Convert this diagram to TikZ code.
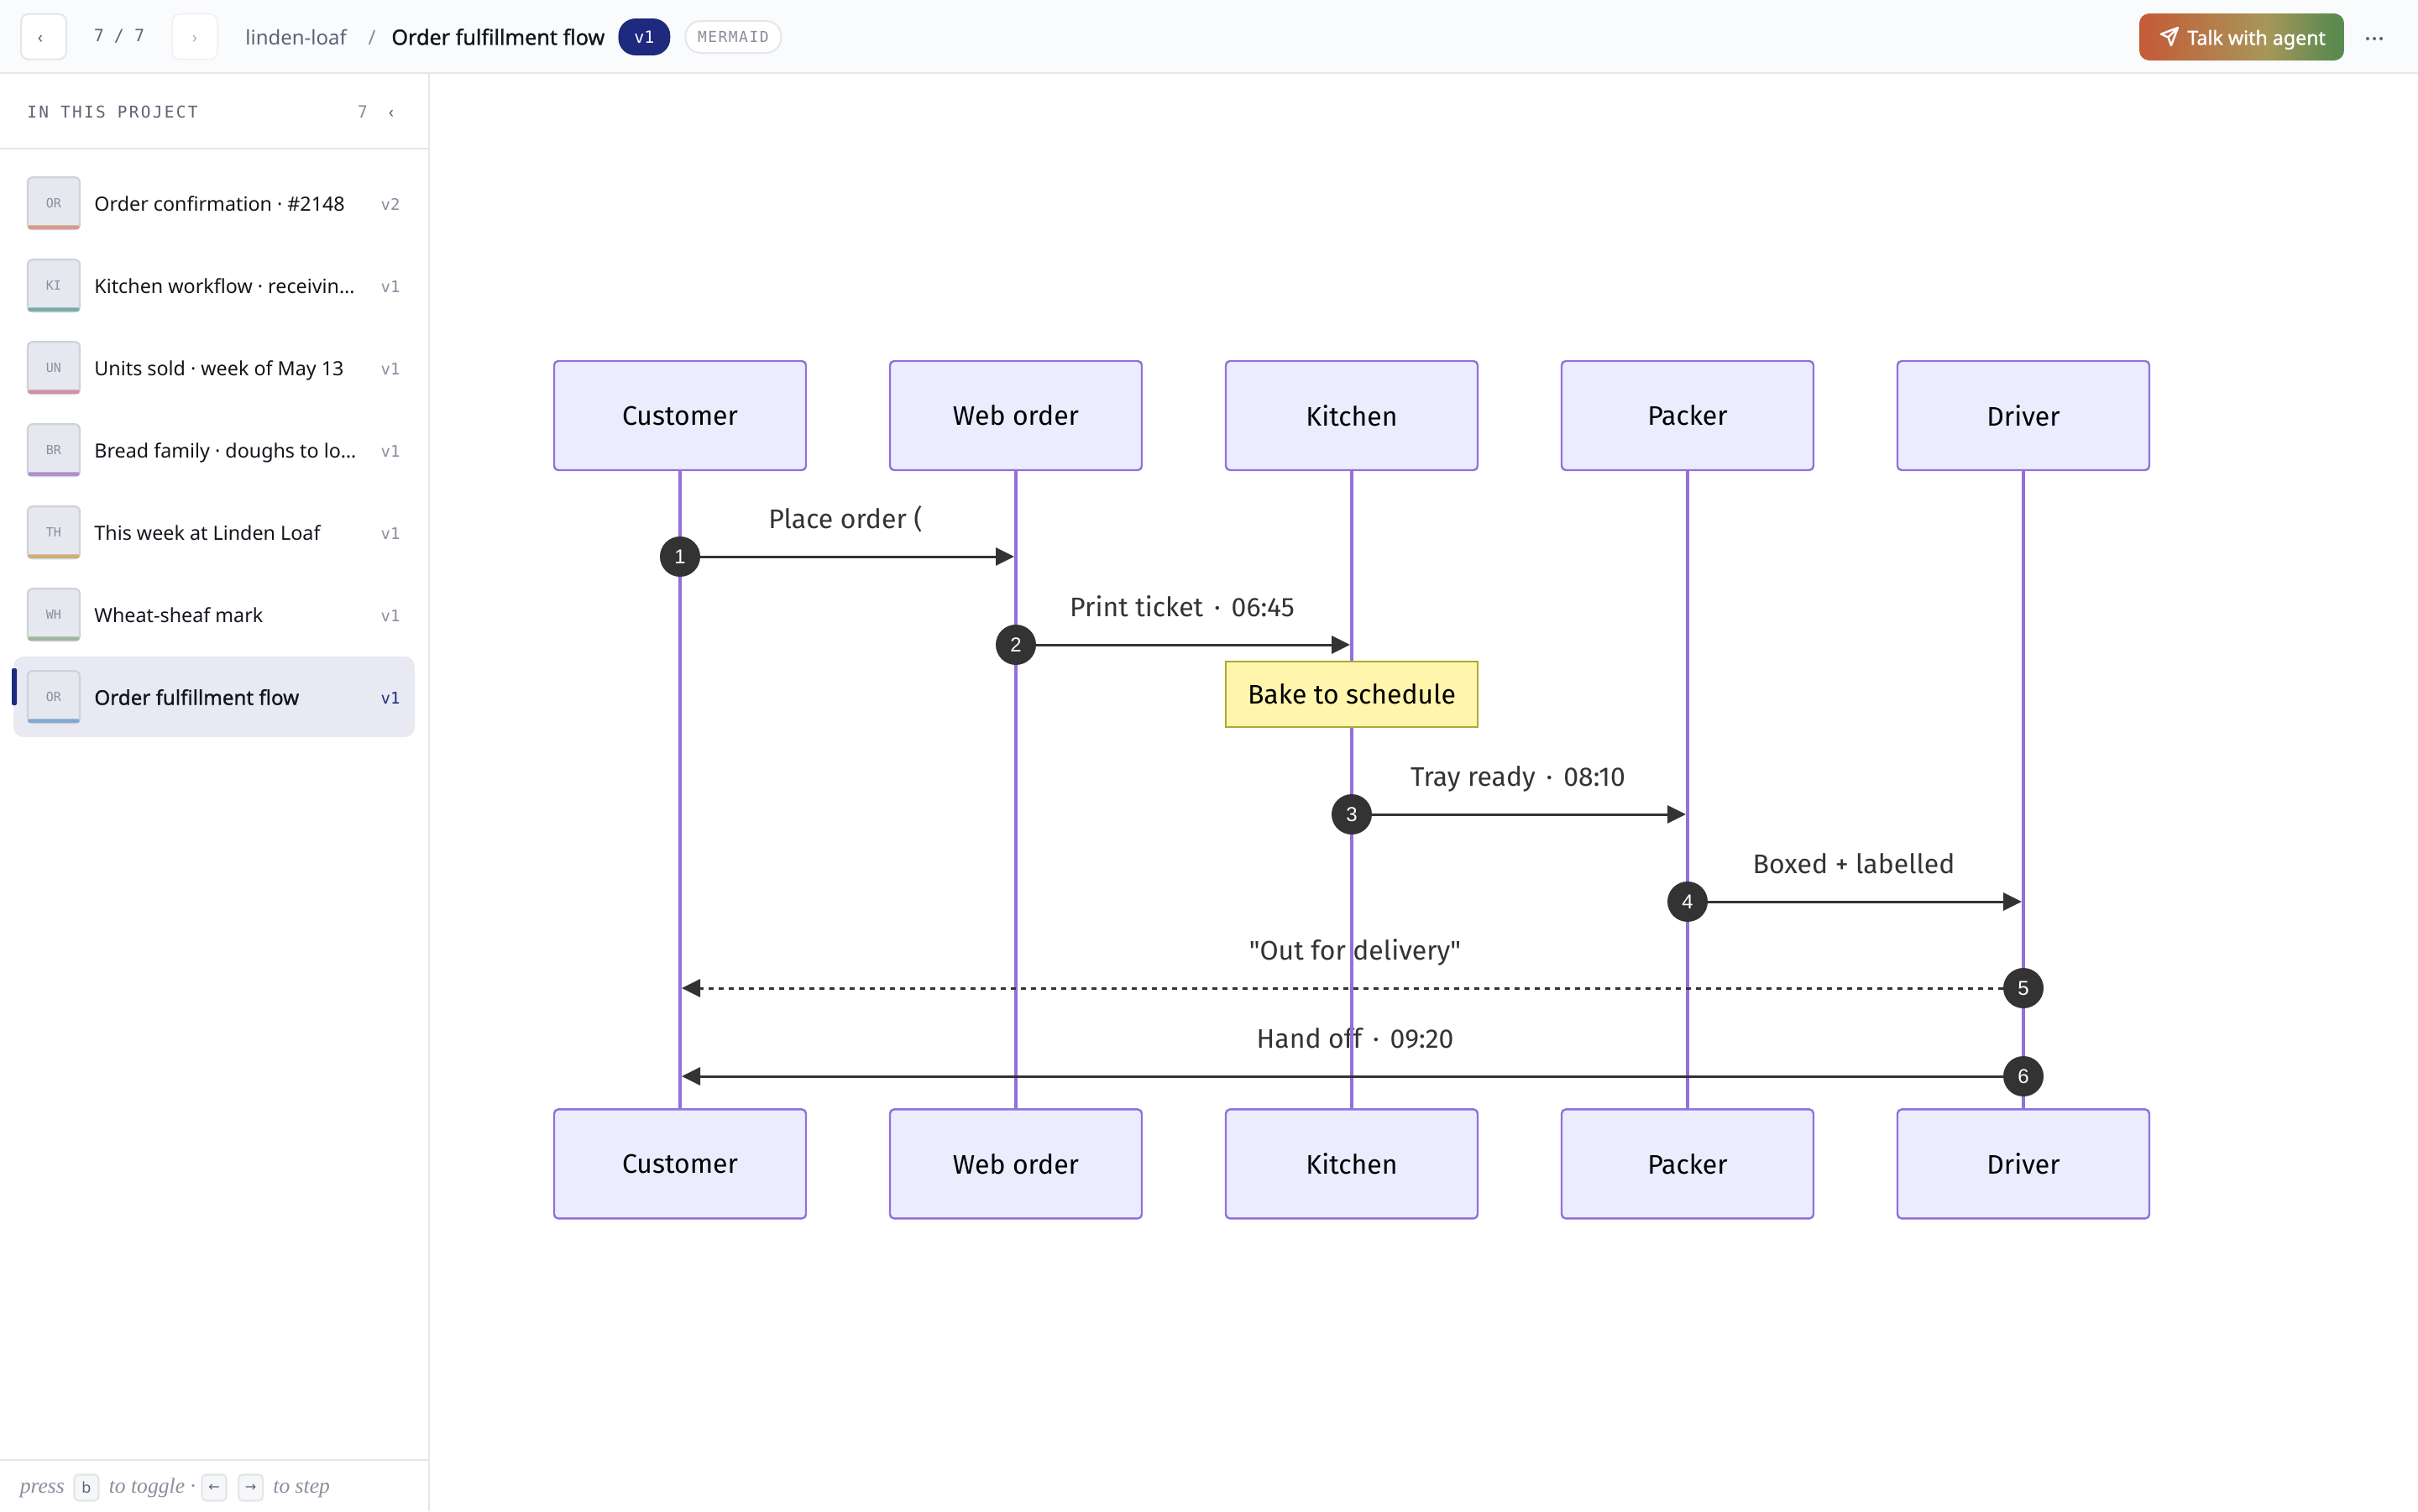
\documentclass[tikz,border=0pt]{standalone}
\usepackage{fontspec}
\usetikzlibrary{arrows.meta,calc}
\setmainfont{Noto Sans}
\setmonofont{DejaVu Sans Mono}
\newfontfamily\seqfont{Fira Sans}
\newfontfamily\footfont{Liberation Serif}
\newfontfamily\numfont{Liberation Sans}
\newfontfamily\arrowfont{DejaVu Sans}
\newfontfamily\spacedmono[LetterSpace=12]{DejaVu Sans Mono}
\newfontfamily\widemono[LetterSpace=8]{DejaVu Sans Mono}
\newfontfamily\semifont[FakeBold=1.1]{Noto Sans}
\newcommand{\seqdot}{\space\hspace{2.2pt}·\hspace{2.2pt}\space}

\definecolor{pagebg}{HTML}{FFFFFF}
\definecolor{barbg}{HTML}{FAFBFD}
\definecolor{rulecol}{HTML}{E5E6EA}
\definecolor{navy}{HTML}{1E2A7E}
\definecolor{inkcol}{HTML}{14151C}
\definecolor{greycol}{HTML}{5F6275}
\definecolor{softcol}{HTML}{8A8D9C}
\definecolor{thumbbg}{HTML}{E6E8F0}
\definecolor{thumbline}{HTML}{CFD2DC}
\definecolor{selbg}{HTML}{E8E9F2}
\definecolor{lifecol}{HTML}{9370DB}
\definecolor{actorbg}{HTML}{ECECFF}
\definecolor{notebg}{HTML}{FFF5AD}
\definecolor{noteline}{HTML}{AAAA33}
\definecolor{msgcol}{HTML}{333333}
\definecolor{keybg}{HTML}{F6F7FB}
\definecolor{stripa}{HTML}{D89A86}
\definecolor{stripb}{HTML}{7AACAC}
\definecolor{stripc}{HTML}{D48FA5}
\definecolor{stripd}{HTML}{B08FCF}
\definecolor{stripe}{HTML}{CFAE78}
\definecolor{stripf}{HTML}{9DB89A}
\definecolor{stripg}{HTML}{86A6D3}
\definecolor{btnl}{HTML}{C25F3A}
\definecolor{btnm}{HTML}{A89658}
\definecolor{btnr}{HTML}{5A8A50}
\pgfdeclarehorizontalshading{btnshade}{100bp}{color(0bp)=(btnl);color(27.5bp)=(btnl);color(56bp)=(btnm);color(72.5bp)=(btnr);color(100bp)=(btnr)}

\tikzset{
  actor/.style={draw=lifecol,fill=actorbg,line width=1.2pt,rounded corners=2.5pt,minimum width=150pt,minimum height=65pt,inner sep=0pt,font=\seqfont\fontsize{16}{18}\selectfont,text=black},
  lifeline/.style={draw=lifecol,line width=1.9pt},
  msg/.style={draw=msgcol,line width=1.5pt,-{Triangle[length=11pt,width=10.5pt,fill=msgcol]}},
  msglabel/.style={anchor=base,inner sep=0pt,text=msgcol,font=\seqfont\fontsize{16}{18}\selectfont},
  numdot/.style={circle,fill=msgcol,minimum size=24pt,inner sep=0pt,text=white,font=\numfont\fontsize{12}{14}\selectfont},
  thumb/.style={draw=thumbline,fill=thumbbg,line width=1.1pt,rounded corners=3pt,minimum size=31pt,inner sep=0pt,text=softcol,font=\ttfamily\fontsize{7.5}{9}\selectfont},
  doctitle/.style={anchor=base west,inner sep=0pt,text=inkcol,font=\fontsize{11.65}{14}\selectfont},
  docver/.style={anchor=base east,inner sep=0pt,text=softcol,font=\ttfamily\fontsize{9.5}{11}\selectfont},
  navbtn/.style={draw=rulecol,fill=white,line width=1pt,rounded corners=4.5pt,minimum width=27pt,minimum height=27pt,inner sep=0pt},
  keycap/.style={draw=rulecol,fill=keybg,line width=1.1pt,rounded corners=2.5pt,minimum width=14.5pt,minimum height=15.5pt,inner sep=0pt,text=greycol},
  foottext/.style={anchor=base west,inner sep=0pt,text=softcol,font=\footfont\itshape\fontsize{12.8}{15}\selectfont},
}

\begin{document}
\begin{tikzpicture}[x=1pt,y=-1pt]
\useasboundingbox (0,0) rectangle (1440,900);
\fill[pagebg] (0,0) rectangle (1440,900);

% top bar
\fill[barbg] (0,0) rectangle (1440,43.5);
\draw[rulecol,line width=1pt] (0,43.5) -- (1440,43.5);
\node[navbtn] (prevbtn) at (26,21.85) {};
\node[navbtn,draw=rulecol!50] (nextbtn) at (116,21.85) {};
\node[inner sep=0pt,text=greycol,font=\fontsize{10}{12}\selectfont] (prevmark) at (24,23.5) {‹};
\node[inner sep=0pt,text=softcol!70,font=\fontsize{10}{12}\selectfont] (nextmark) at (116,23.5) {›};
\node[inner sep=0pt,text=greycol,font=\ttfamily\fontsize{10}{12}\selectfont] (pagenum) at (71,21.8) {7 / 7};
\node[anchor=base west,inner sep=0pt,text=greycol,font=\fontsize{12}{15}\selectfont] (crumb) at (146,26.7) {linden-loaf};
\node[anchor=base,inner sep=0pt,text=softcol,font=\fontsize{12}{15}\selectfont] (crumbsep) at (221.5,26.7) {/};
\node[anchor=base west,inner sep=0pt,text=inkcol,font=\semifont\fontsize{12.6}{15}\selectfont] (pagetitle) at (233,26.7) {Order fulfillment flow};
\node[draw=navy!85!black,fill=navy,rounded corners=10pt,minimum width=30.5pt,minimum height=21.5pt,inner sep=0pt,text=white,font=\ttfamily\fontsize{10}{12}\selectfont] (verbadge) at (383.7,22) {v1};
\node[draw=rulecol,line width=1pt,fill=white,rounded corners=9pt,minimum width=57pt,minimum height=19pt,inner sep=0pt,text=softcol,font=\widemono\fontsize{9}{11}\selectfont] (kindbadge) at (436.7,22) {MERMAID};
\node[draw=none,shade,shading=btnshade,rounded corners=6pt,minimum width=122pt,minimum height=28pt,inner sep=0pt] (talkbtn) at (1335,22) {};
\node[anchor=base west,inner sep=0pt,text=white,font=\semifont\fontsize{11.6}{14}\selectfont] (talktext) at (1302.5,26.7) {Talk with agent};
\draw[white,line width=1.2pt,line join=round] (1297,16.5) -- (1287,20.3) -- (1291.2,22.2) -- (1293,27) -- cycle (1291.2,22.2) -- (1297,16.5);
\foreach \i in {1410,1414,1418}
  \fill[greycol] (\i,23) circle (1pt);

% sidebar
\draw[rulecol,line width=1pt] (255.5,43.5) -- (255.5,900);
\node[anchor=west,inner sep=0pt,text=greycol,font=\spacedmono\fontsize{9.7}{12}\selectfont] (sidehead) at (16,66.7) {IN THIS PROJECT};
\node[inner sep=0pt,text=softcol,font=\ttfamily\fontsize{10}{12}\selectfont] (sidecount) at (216,66.7) {7};
\node[inner sep=0pt,text=greycol,font=\fontsize{10}{12}\selectfont] (sidefold) at (233,68) {‹};
\draw[rulecol,line width=1pt] (0,88.5) -- (255,88.5);
\fill[selbg,rounded corners=6pt] (8,391) rectangle (247,439);
\fill[navy,rounded corners=1pt] (7,398) rectangle (10,420);

\foreach \code/\name/\ver/\strip [count=\k from 0] in {
  OR/Order confirmation · \#2148/v2/stripa,
  KI/Kitchen workflow · receivin…/v1/stripb,
  UN/Units sold · week of May 13/v1/stripc,
  BR/Bread family · doughs to lo…/v1/stripd,
  TH/This week at Linden Loaf/v1/stripe,
  WH/Wheat-sheaf mark/v1/stripf}{
  \node[thumb] (thumb\k) at (32,{121.1+49*\k}) {\code};
  \fill[\strip,rounded corners=1pt] ($(thumb\k.south west)+(0.7,-0.7)$) rectangle ($(thumb\k.south east)+(-0.7,-3)$);
  \node[doctitle] (doc\k) at (56,{125.8+49*\k}) {\name};
  \node[docver] (ver\k) at (238.5,{125+49*\k}) {\ver};
}
\node[thumb] (thumb6) at (32,415.1) {OR};
\fill[stripg,rounded corners=1pt] ($(thumb6.south west)+(0.7,-0.7)$) rectangle ($(thumb6.south east)+(-0.7,-3)$);
\node[doctitle,font=\semifont\fontsize{12.1}{14}\selectfont] (doc6) at (56,419.8) {Order fulfillment flow};
\node[docver,text=navy] (ver6) at (238.5,419) {v1};

% footer
\draw[rulecol,line width=1pt] (0,869.5) -- (255,869.5);
\node[foottext] (presstxt) at (11.7,889.3) {press};
\node[keycap,font=\fontsize{9}{11}\selectfont] (keyb) at (51.5,886) {b};
\node[foottext] (toggletxt) at (64.7,889.3) {to toggle ·};
\node[keycap,font=\arrowfont\fontsize{8}{10}\selectfont] (keyl) at (127.5,886) {←};
\node[keycap,font=\arrowfont\fontsize{8}{10}\selectfont] (keyr) at (149.3,886) {→};
\node[foottext] (steptxt) at (162.5,889.3) {to step};

% labels sit under the lifelines
\node[msglabel] (lab1) at (503.5,314.5) {Place order (};
\node[msglabel] (lab2) at (704,367) {Print ticket\seqdot 06:45};
\node[msglabel] (lab3) at (904,468) {Tray ready\seqdot 08:10};
\node[msglabel] (lab4) at (1104,520) {Boxed + labelled};
\node[msglabel] (lab5) at (807,571.5) {"Out for delivery"};
\node[msglabel] (lab6) at (807,624) {Hand off\seqdot 09:20};

% lifelines
\foreach \nm/\lbl/\x in {cust/Customer/405,web/Web order/605,kit/Kitchen/805,pack/Packer/1005,drv/Driver/1205}{
  \coordinate (\nm top) at (\x,280);
  \coordinate (\nm bot) at (\x,661);
  \draw[lifeline] (\nm top) -- (\nm bot);
  \node[actor] (\nm A) at (\x,247.5) {\lbl};
  \node[actor] (\nm B) at (\x,693.2) {\lbl};
}

% note
\node[draw=noteline,fill=notebg,line width=1.1pt,minimum width=150pt,minimum height=39pt,inner sep=0pt,font=\seqfont\fontsize{16}{18}\selectfont,text=black] (bakenote) at (805,413.4) {Bake to schedule};

% messages
\coordinate (tipa) at (604,331.5);
\coordinate (tipb) at (804,384);
\coordinate (tipc) at (1004,485);
\coordinate (tipd) at (1204,537);
\coordinate (tipe) at (406,588.5);
\coordinate (tipf) at (406,641);
\node[numdot] (n1) at (405,331.5) {1};
\node[numdot] (n2) at (605,384) {2};
\node[numdot] (n3) at (805,485) {3};
\node[numdot] (n4) at (1005,537) {4};
\node[numdot] (n5) at (1205,588.5) {5};
\node[numdot] (n6) at (1205,641) {6};
\draw[msg] (n1) -- (tipa);
\draw[msg] (n2) -- (tipb);
\draw[msg] (n3) -- (tipc);
\draw[msg] (n4) -- (tipd);
\draw[msg,dash pattern=on 3pt off 3pt] (n5) -- (tipe);
\draw[msg] (n6) -- (tipf);
\end{tikzpicture}
\end{document}
